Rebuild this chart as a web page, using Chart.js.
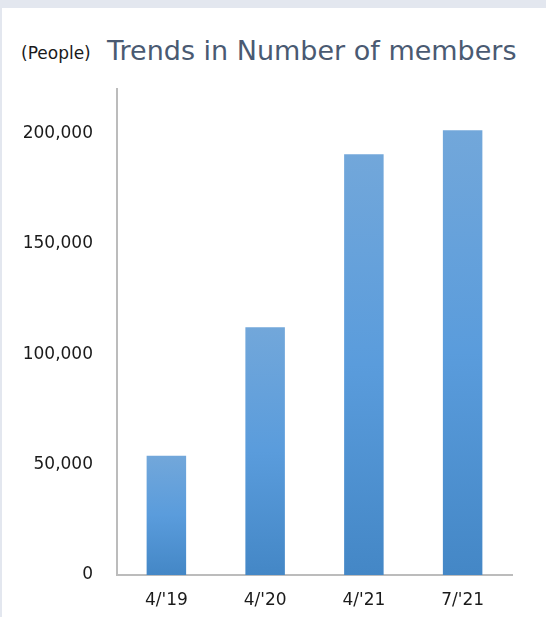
<!DOCTYPE html>
<html>
<head>
<meta charset="utf-8">
<script src="https://cdn.jsdelivr.net/npm/chart.js@4/dist/chart.umd.min.js"></script>
<style>
    html, body { margin: 0; padding: 0; }
    body { width: 546px; height: 617px; background: #e3e7ef; overflow: hidden; }
    #panel { position: absolute; left: 2px; top: 8px; width: 544px; height: 609px; background: #ffffff; }
    #heading { position: absolute; left: 0; top: 0; width: 546px; height: 80px; font-family: "DejaVu Sans", Verdana, sans-serif; }
    #unit { position: absolute; left: 21px; top: 45px; font-size: 17px; line-height: 17px; color: #1a1a1a; }
    #title { position: absolute; left: 107px; top: 37px; font-size: 27px; line-height: 27px; color: #4a5a72; white-space: nowrap; }
    #chartbox { position: absolute; left: 0; top: 0; width: 546px; height: 617px; }
</style>
</head>
<body>
<div id="panel"></div>
<div id="heading">
    <span id="unit">(People)</span>
    <span id="title">Trends in Number of members</span>
</div>
<div id="chartbox"><canvas id="chartDisplay"></canvas></div>
<script>
"use strict";

// Chart values
var categories = ["4/'19", "4/'20", "4/'21", "7/'21"];
var members = [54000, 112200, 190500, 201300];
var yTicks = [0, 50000, 100000, 150000, 200000];

// Vertical gradient for each bar, lighter at its top
var barFill = function (context) {
    var chart = context.chart;
    var area = chart.chartArea;
    if (!area || context.type !== 'data') return '#5a9cdc';
    var yScale = chart.scales.y;
    var top = yScale.getPixelForValue(context.parsed.y);
    var bottom = yScale.getPixelForValue(0);
    var grad = chart.ctx.createLinearGradient(0, top, 0, bottom);
    grad.addColorStop(0, '#72a7da');
    grad.addColorStop(0.5, '#5a9cdc');
    grad.addColorStop(1, '#4487c6');
    return grad;
};

var ctx = document.getElementById('chartDisplay').getContext('2d');
var chart = new Chart(ctx, {
    type: 'bar',
    data: {
        labels: categories,
        datasets: [{
            label: 'Members',
            data: members,
            backgroundColor: barFill,
            borderWidth: 0,
            barPercentage: 0.4,
            categoryPercentage: 1
        }]
    },
    options: {
        responsive: true,
        maintainAspectRatio: false,
        animation: false,
        layout: { padding: { top: 89, right: 34, left: 0, bottom: 0 } },
        plugins: {
            legend: { display: false },
            tooltip: { enabled: false }
        },
        scales: {
            x: {
                grid: { display: false, drawTicks: false },
                border: { display: true, color: '#bcbcbc', width: 2 },
                ticks: {
                    color: '#1a1a1a',
                    padding: 15,
                    font: { family: '"DejaVu Sans", Verdana, sans-serif', size: 17 }
                },
                afterFit: function (scale) { scale.height = 42; }
            },
            y: {
                min: 0,
                max: 220000,
                grid: { display: false, drawTicks: false },
                border: { display: true, color: '#bcbcbc', width: 2 },
                afterBuildTicks: function (scale) {
                    scale.ticks = yTicks.map(function (v) { return { value: v }; });
                },
                ticks: {
                    color: '#1a1a1a',
                    padding: 24,
                    font: { family: '"DejaVu Sans", Verdana, sans-serif', size: 17 },
                    callback: function (value) { return value.toLocaleString('en-US'); }
                },
                afterFit: function (scale) { scale.width = 117; }
            }
        }
    }
});
</script>
</body>
</html>
